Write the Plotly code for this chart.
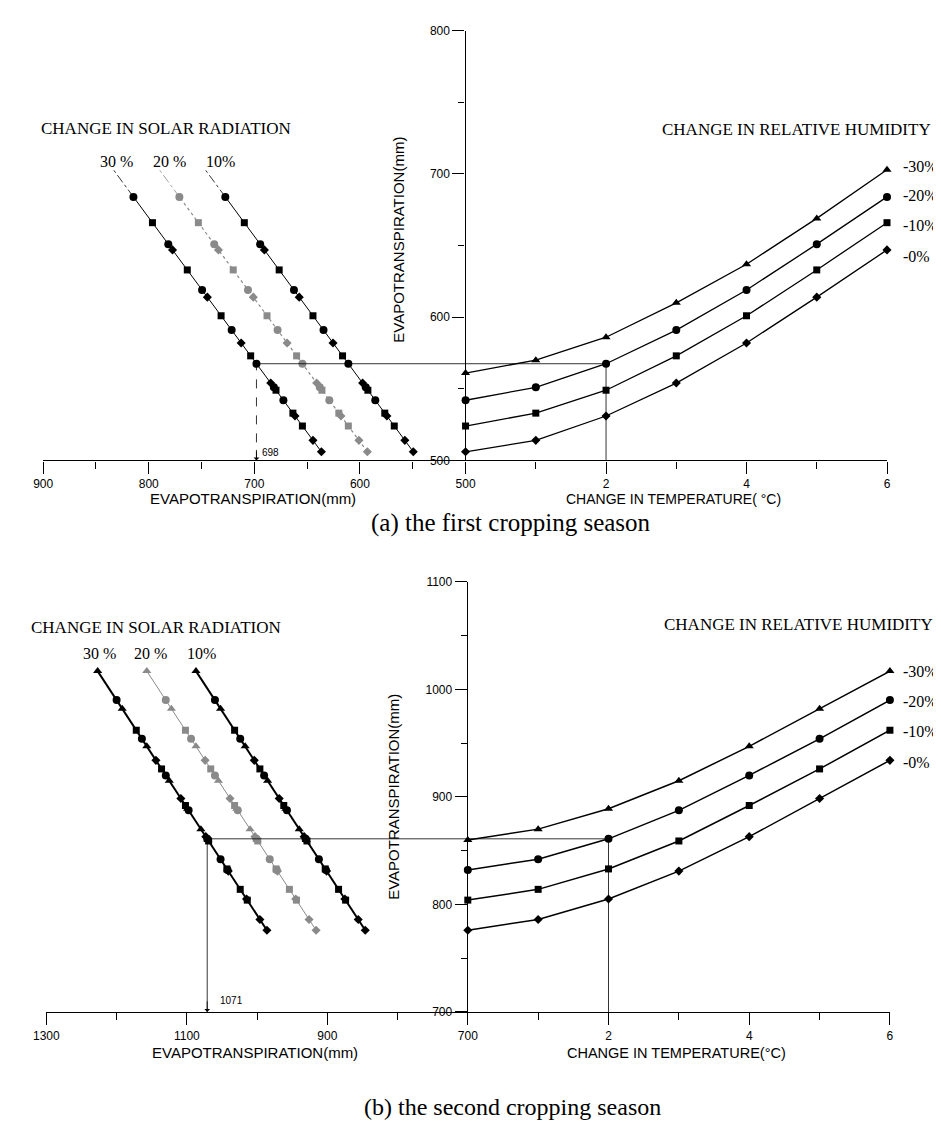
import plotly.graph_objects as go

W, H = 941, 1124

# ---------------- data ----------------
temps = [0, 1, 2, 3, 4, 5, 6]
rh_labels = ["-30%", "-20%", "-10%", "-0%"]
solar_labels = ["30 %", "20 %", "10%"]

# (a) first cropping season: evapotranspiration (mm) vs change in temperature
a_rh30 = [561, 570, 586, 610, 637, 669, 703]
a_rh20 = [542, 551, 567.5, 591, 619, 651, 684]
a_rh10 = [524, 533, 549, 573, 601, 633, 666]
a_rh00 = [506, 514, 531, 554, 582, 614, 647]
a_solar_add = [130.5, 87.0, 43.5]      # added ET (mm) for 30 %, 20 %, 10 % solar radiation
a_ref_temp = 2
a_ref_result = 698

# (b) second cropping season
b_rh30 = [860, 870, 889, 915, 947, 982, 1017]
b_rh20 = [832, 842, 861, 887.5, 920, 954, 990]
b_rh10 = [804, 814, 833, 859, 892, 926, 962]
b_rh00 = [776, 786, 805, 831, 863, 898.5, 934]
b_solar_add = [210.0, 140.0, 70.0]
b_ref_temp = 2
b_ref_result = 1071

# axis ticks
a_left_ticks = [900, 800, 700, 600, 500]
a_left_minor = [850, 750, 650, 550]
a_y_ticks = [500, 600, 700, 800]
a_y_minor = [550, 650, 750]
b_left_ticks = [1300, 1100, 900, 700]
b_left_minor = [1200, 1000, 800]
b_y_ticks = [700, 800, 900, 1000, 1100]
b_y_minor = [750, 850, 950, 1050]
t_ticks = [0, 2, 4, 6]
t_ticktext = ["", "2", "4", "6"]
t_minor = [1, 3, 5]

# ---------------- styles ----------------
SERIF = "Liberation Serif"
SANS = "Liberation Sans"
symbols = ["triangle-up", "circle", "square", "diamond"]
sizes = [8, 8, 7, 7]


def px(p):
    return p / W


def py(p):
    return 1 - p / H


fig = go.Figure()


def add_panel(rh, solar_add, ref_temp, ref_result, xl, xr, ya, y0, x_end, marked_from,
              rline_w, solar_styles, dash_left_vertical):
    # right panel curves
    for vals, sym, sz in zip(rh, symbols, sizes):
        fig.add_trace(go.Scatter(
            x=temps, y=vals, xaxis=xr, yaxis=ya, mode="lines+markers",
            line=dict(color="black", width=rline_w),
            marker=dict(symbol=sym, size=sz, color="black"),
            cliponaxis=False, showlegend=False, hoverinfo="skip"))
    all_vals = [v for s in rh for v in s]
    marked = rh[marked_from:]
    marked_vals = [v for s in marked for v in s]
    y_lo, y_hi_m, y_hi = min(all_vals), max(marked_vals), max(all_vals)
    # left panel solar radiation lines
    for add, (col, dash, w) in zip(solar_add, solar_styles):
        fig.add_trace(go.Scatter(
            x=[y_lo + add, y_hi_m + add], y=[y_lo, y_hi_m], xaxis=xl, yaxis=ya,
            mode="lines", line=dict(color=col, width=w, dash=dash),
            cliponaxis=False, showlegend=False, hoverinfo="skip"))
        if y_hi > y_hi_m:
            fig.add_trace(go.Scatter(
                x=[y_hi_m + add, y_hi + add], y=[y_hi_m, y_hi], xaxis=xl, yaxis=ya,
                mode="lines", line=dict(color=col, width=0.8, dash="dashdot"),
                cliponaxis=False, showlegend=False, hoverinfo="skip"))
        for vals, sym, sz in zip(marked, symbols[marked_from:], sizes[marked_from:]):
            fig.add_trace(go.Scatter(
                x=[v + add for v in vals], y=vals, xaxis=xl, yaxis=ya, mode="markers",
                marker=dict(symbol=sym, size=sz, color=col),
                cliponaxis=False, showlegend=False, hoverinfo="skip"))
    # reference construction lines
    ref = rh[1][temps.index(ref_temp)]
    fig.add_trace(go.Scatter(x=[ref_result, x_end], y=[ref, ref], xaxis=xl, yaxis=ya,
                             mode="lines", line=dict(color="black", width=0.8),
                             cliponaxis=False, showlegend=False, hoverinfo="skip"))
    fig.add_trace(go.Scatter(x=[ref_result, ref_result], y=[y0, ref], xaxis=xl, yaxis=ya,
                             mode="lines",
                             line=dict(color="black", width=0.8,
                                       dash="dash" if dash_left_vertical else "solid"),
                             cliponaxis=False, showlegend=False, hoverinfo="skip"))
    fig.add_trace(go.Scatter(x=[temps[0], ref_temp], y=[ref, ref], xaxis=xr, yaxis=ya,
                             mode="lines", line=dict(color="black", width=0.8),
                             cliponaxis=False, showlegend=False, hoverinfo="skip"))
    fig.add_trace(go.Scatter(x=[ref_temp, ref_temp], y=[y0, ref], xaxis=xr, yaxis=ya,
                             mode="lines", line=dict(color="black", width=0.8),
                             cliponaxis=False, showlegend=False, hoverinfo="skip"))
    return ref


add_panel([a_rh30, a_rh20, a_rh10, a_rh00], a_solar_add, a_ref_temp, a_ref_result,
          "x", "x2", "y", a_y_ticks[0], a_left_ticks[-1], 1, 1.3,
          [("black", "solid", 1.0), ("#8a8a8a", "dot", 1.2), ("black", "solid", 1.0)],
          True)
add_panel([b_rh30, b_rh20, b_rh10, b_rh00], b_solar_add, b_ref_temp, b_ref_result,
          "x3", "x4", "y2", b_y_ticks[0], b_left_ticks[-1], 0, 1.5,
          [("black", "solid", 2.0), ("#8a8a8a", "solid", 1.0), ("black", "solid", 2.0)],
          False)

tickfont = dict(family=SANS, size=12, color="black")
common = dict(showline=True, linecolor="black", linewidth=1.4, ticks="outside",
              tickcolor="black", tickwidth=1.2, ticklen=12, showgrid=False,
              zeroline=False, tickfont=tickfont, fixedrange=True)


def xax(domain, rng, tv, tt, minor, anchor):
    d = dict(common)
    d.update(domain=domain, range=rng, anchor=anchor, tickmode="array", tickvals=tv,
             minor=dict(tickmode="array", tickvals=minor, ticks="outside", ticklen=7,
                        tickcolor="black", tickwidth=1.1, showgrid=False))
    if tt is not None:
        d["ticktext"] = tt
    return d


def yax(domain, rng, tv, minor, anchor):
    d = dict(common)
    d.update(domain=domain, range=rng, anchor=anchor, side="left", tickmode="array",
             tickvals=tv,
             minor=dict(tickmode="array", tickvals=minor, ticks="outside", ticklen=6,
                        tickcolor="black", tickwidth=1.1, showgrid=False))
    return d


fig.update_layout(
    width=W, height=H, autosize=False,
    margin=dict(l=0, r=0, t=0, b=0, pad=0),
    paper_bgcolor="white", plot_bgcolor="white",
    showlegend=False,
    xaxis=xax([px(22.7), px(455.7)], [900, 500], a_left_ticks, None, a_left_minor, "y"),
    xaxis2=xax([px(455.7), px(887.7)], [0, 6], t_ticks, t_ticktext, t_minor, "y"),
    yaxis=yax([py(451), py(16)], [500, 800], a_y_ticks, a_y_minor, "x2"),
    xaxis3=xax([px(26), px(458)], [1300, 700], b_left_ticks, None, b_left_minor, "y2"),
    xaxis4=xax([px(458), px(890.7)], [0, 6], t_ticks, t_ticktext, t_minor, "y2"),
    yaxis2=yax([py(1009.5), py(574)], [700, 1100], b_y_ticks, b_y_minor, "x4"),
)

ann = []


def text(x, y, s, size, family, xanchor="center", angle=0):
    ann.append(dict(x=px(x), y=py(y), xref="paper", yref="paper", text=s, showarrow=False,
                    xanchor=xanchor, yanchor="middle", textangle=angle,
                    font=dict(family=family, size=size, color="black")))


# panel (a) texts
text(18, 115, "CHANGE IN SOLAR RADIATION", 17, SERIF, "left")
for lab, cx in zip(solar_labels, [98, 152, 204]):
    text(cx, 148, lab, 16, SERIF)
text(655, 116, "CHANGE IN RELATIVE HUMIDITY", 17, SERIF, "left")
for lab, yy in zip(rh_labels, [153, 183, 213, 245]):
    text(902, yy, lab, 16, SERIF, "left")
text(387, 228, "EVAPOTRANSPIRATION(mm)", 15, SANS, angle=-90)
text(238, 490, "EVAPOTRANSPIRATION(mm)", 15, SANS)
text(669, 490, "CHANGE IN TEMPERATURE( °C)", 14, SANS)
text(502, 514, "(a) the first cropping season", 25, SERIF)

# panel (b) texts
text(8, 620, "CHANGE IN SOLAR RADIATION", 17, SERIF, "left")
for lab, cx in zip(solar_labels, [80, 133, 185]):
    text(cx, 647, lab, 16, SERIF)
text(657, 617, "CHANGE IN RELATIVE HUMIDITY", 17, SERIF, "left")
for lab, yy in zip(rh_labels, [665, 695, 726, 757]):
    text(902, yy, lab, 16, SERIF, "left")
text(381, 792, "EVAPOTRANSPIRATION(mm)", 15, SANS, angle=-90)
text(240, 1051, "EVAPOTRANSPIRATION(mm)", 15, SANS)
text(672, 1051, "CHANGE IN TEMPERATURE(°C)", 14.5, SANS)
text(504, 1106, "(b) the second cropping season", 24, SERIF)

# arrows + result labels
for xr_, yr_, xv, yv, lab, xs, ys in [("x", "y", a_ref_result, a_y_ticks[0], str(a_ref_result), 4, 0),
                                      ("x3", "y2", b_ref_result, b_y_ticks[0], str(b_ref_result), 11, 4)]:
    ann.append(dict(x=xv, y=yv, xref=xr_, yref=yr_, ax=0, ay=-12, showarrow=True,
                    arrowhead=1, arrowsize=1.2, arrowwidth=0.8, arrowcolor="black", text=""))
    ann.append(dict(x=xv, y=yv, xref=xr_, yref=yr_, text=lab, showarrow=False,
                    xanchor="left", yanchor="bottom", xshift=xs, yshift=ys,
                    font=dict(family=SANS, size=10, color="black")))

fig.update_layout(annotations=ann)
fig.write_html("out.html")
